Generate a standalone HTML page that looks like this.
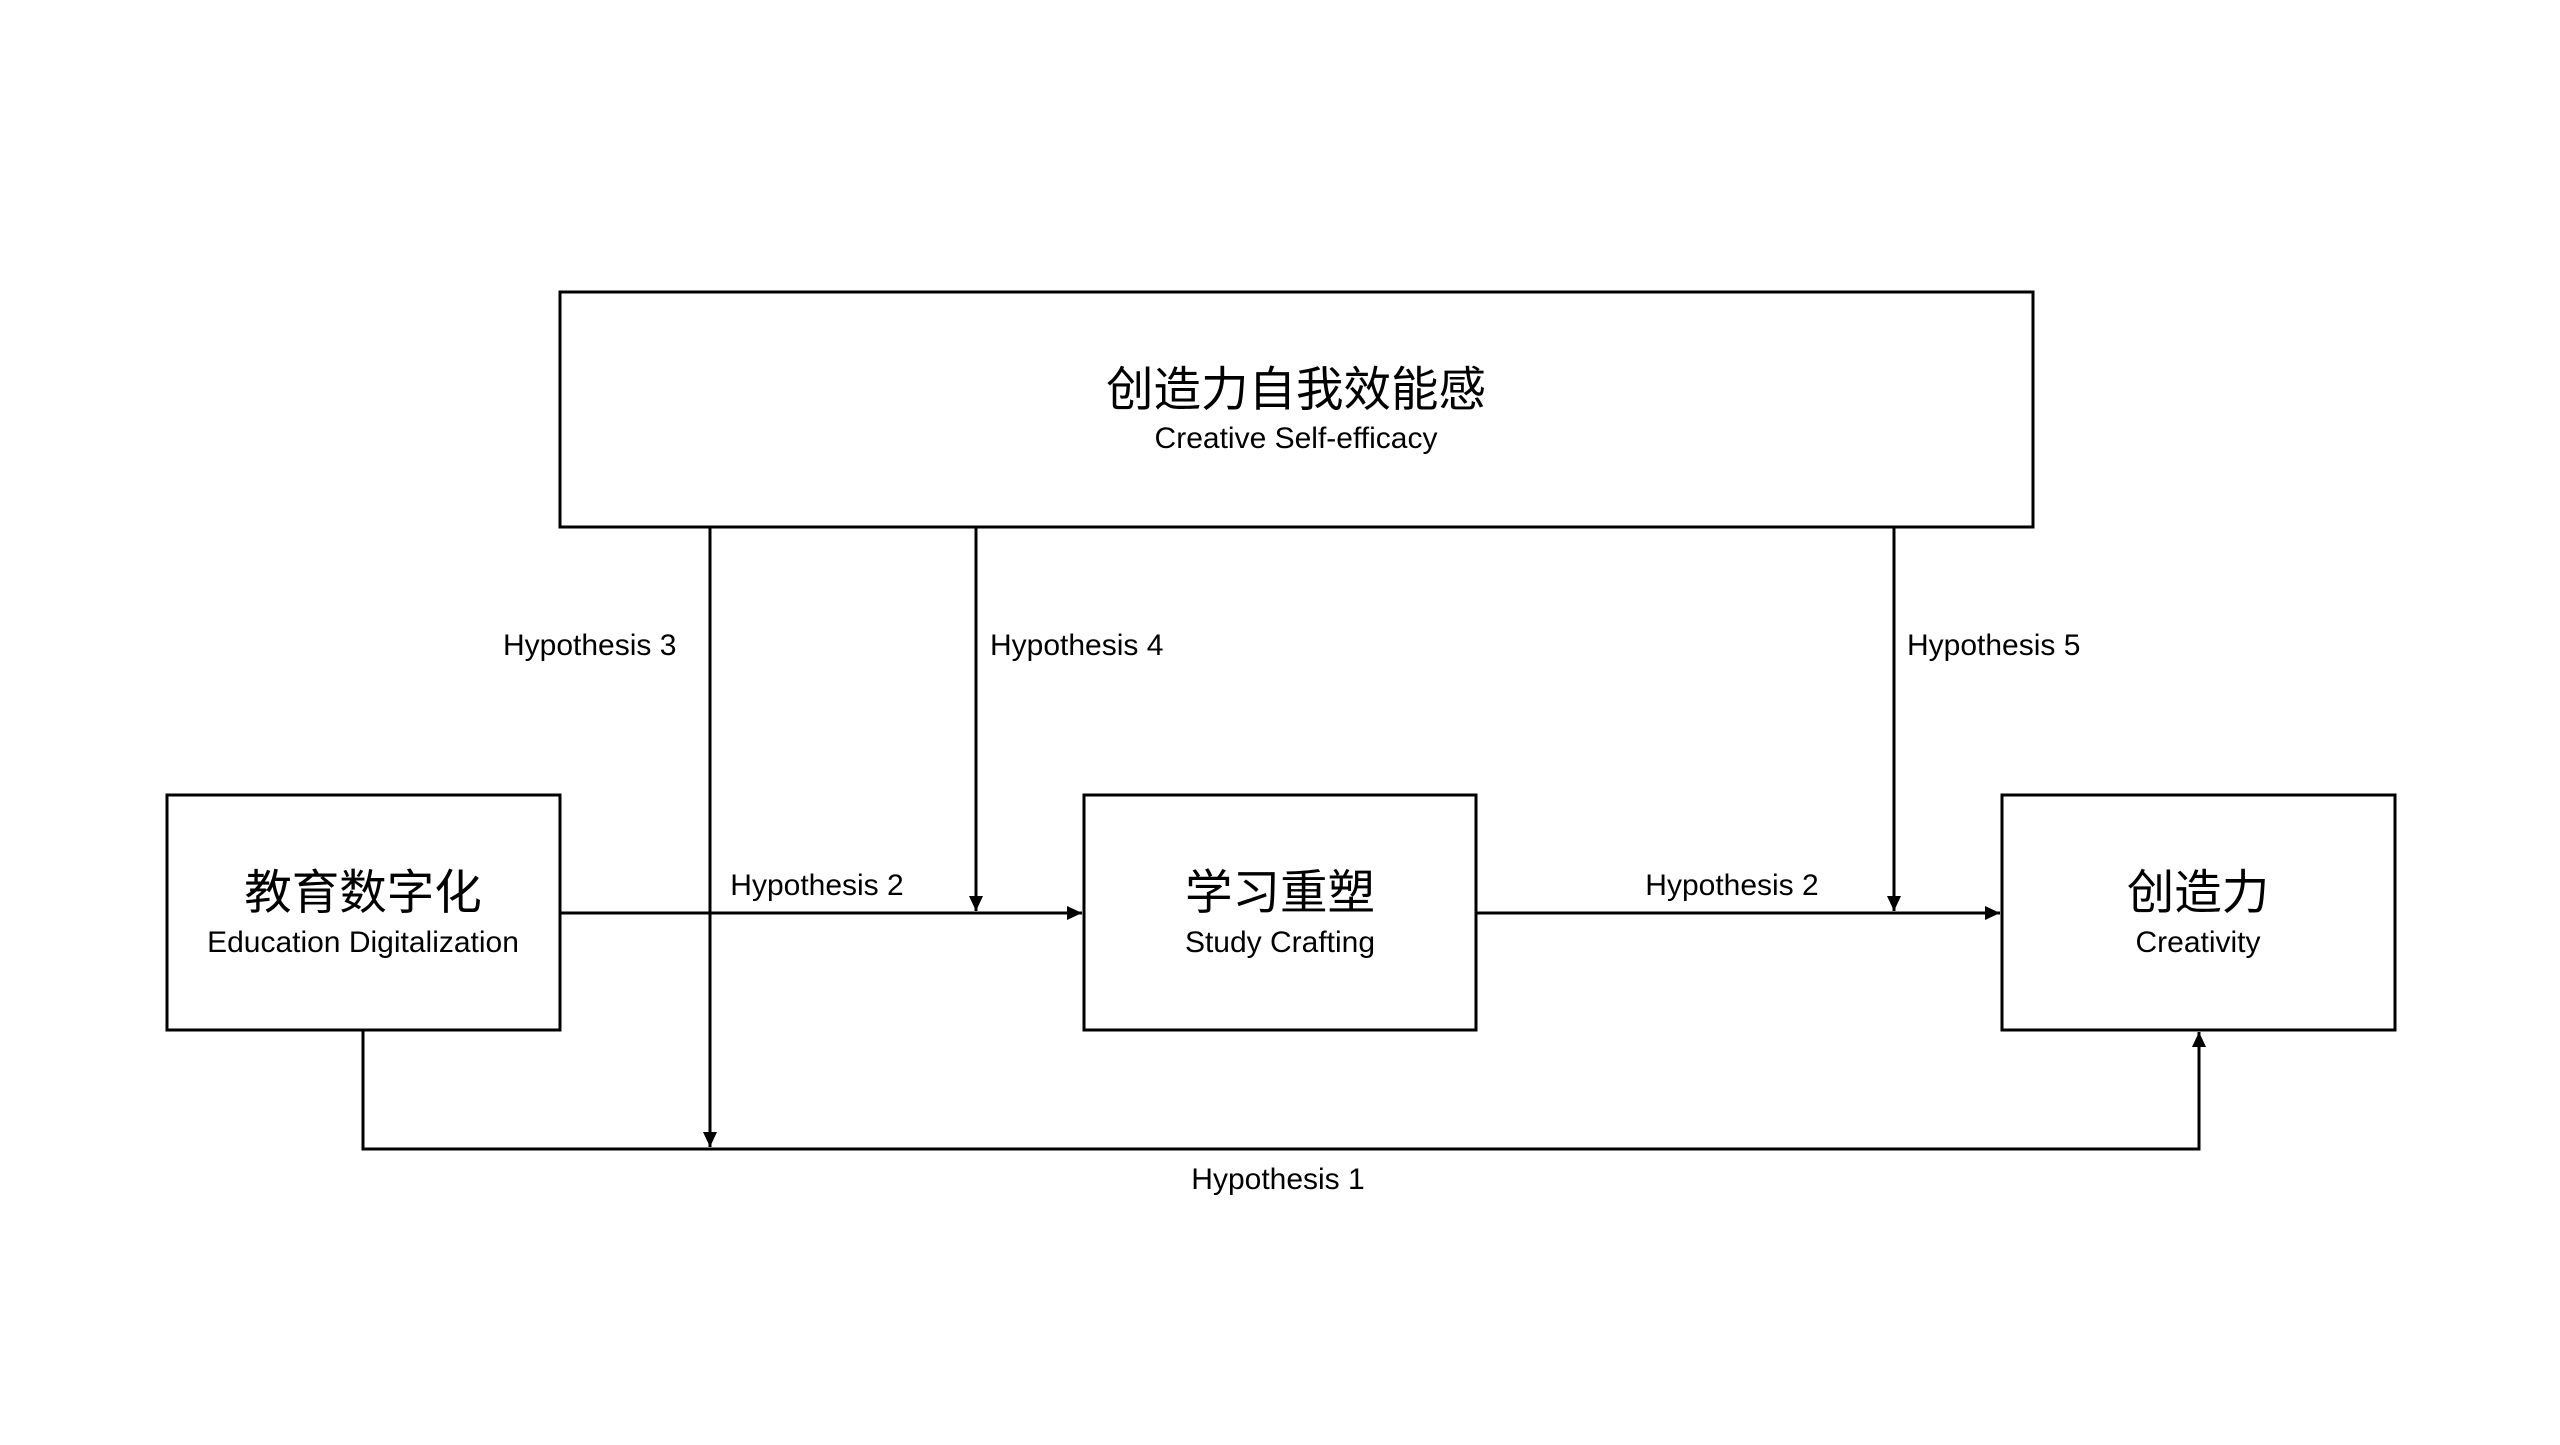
<!DOCTYPE html>
<html><head><meta charset="utf-8"><style>
html,body{margin:0;padding:0;background:#fff;}
svg text{font-family:"Liberation Sans","Noto Sans CJK SC",sans-serif;fill:#000;}
</style></head><body>
<svg width="2560" height="1440" viewBox="0 0 2560 1440" xmlns="http://www.w3.org/2000/svg">
<defs>
<marker id="b" markerWidth="16" markerHeight="16" refX="15" refY="8" orient="auto" markerUnits="userSpaceOnUse">
<path d="M0,1 L15,8 L0,15 Z" fill="#000"/>
</marker>
</defs>
<g fill="none" stroke="#000" stroke-width="3">
<rect x="560" y="292" width="1473" height="235"/>
<rect x="167" y="795" width="393" height="235"/>
<rect x="1084" y="795" width="392" height="235"/>
<rect x="2002" y="795" width="393" height="235"/>
<line x1="560" y1="913" x2="1082" y2="913" marker-end="url(#b)"/>
<line x1="1476" y1="913" x2="2000" y2="913" marker-end="url(#b)"/>
<line x1="710" y1="527" x2="710" y2="1147" marker-end="url(#b)"/>
<line x1="976" y1="527" x2="976" y2="911" marker-end="url(#b)"/>
<line x1="1894" y1="527" x2="1894" y2="911" marker-end="url(#b)"/>
<polyline points="363,1030 363,1149 2199,1149 2199,1032" marker-end="url(#b)"/>
</g>
<g text-anchor="middle">
<text x="1296" y="406" font-size="47.5">创造力自我效能感</text>
<text x="1296" y="448" font-size="30">Creative Self-efficacy</text>
<text x="363" y="909" font-size="47.5">教育数字化</text>
<text x="363" y="952" font-size="30">Education Digitalization</text>
<text x="1280" y="909" font-size="47.5">学习重塑</text>
<text x="1280" y="952" font-size="30">Study Crafting</text>
<text x="2198" y="909" font-size="47.5">创造力</text>
<text x="2198" y="952" font-size="30">Creativity</text>
<text x="817" y="895" font-size="30">Hypothesis 2</text>
<text x="1732" y="895" font-size="30">Hypothesis 2</text>
<text x="1278" y="1189" font-size="30">Hypothesis 1</text>
</g>
<g font-size="30">
<text x="503" y="655">Hypothesis 3</text>
<text x="990" y="655">Hypothesis 4</text>
<text x="1907" y="655">Hypothesis 5</text>
</g>
</svg>
</body></html>
